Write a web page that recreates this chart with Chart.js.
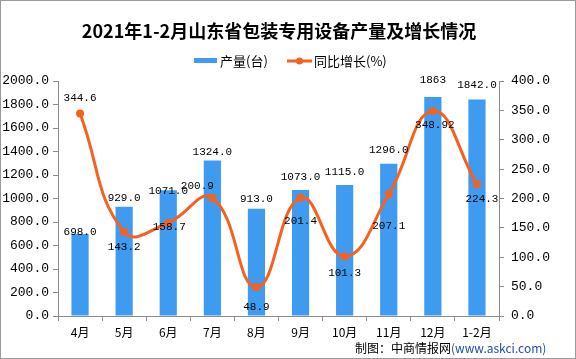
<!DOCTYPE html>
<html><head><meta charset="utf-8">
<script src="https://cdn.jsdelivr.net/npm/chart.js@4.4.0/dist/chart.umd.min.js"></script>
<style>html,body{margin:0;padding:0;background:#fff}canvas{display:block}</style>
</head><body>
<canvas id="c" width="576" height="359"></canvas>
<script>
const categories = ['4月','5月','6月','7月','8月','9月','10月','11月','12月','1-2月'];
const output = [698, 929, 1071, 1324, 913, 1073, 1115, 1296, 1863, 1842];
const outputLabels = ['698.0','929.0','1071.0','1324.0','913.0','1073.0','1115.0','1296.0','1863','1842.0'];
const growth = [344.6, 143.2, 158.7, 200.9, 48.9, 201.4, 101.3, 207.1, 348.92, 224.3];
const growthLabels = ['344.6','143.2','158.7','200.9','48.9','201.4','101.3','207.1','348.92','224.3'];
const leftTickMax = 2000, leftTickStep = 200;
const rightTickMax = 400, rightTickStep = 50;

// label placement offsets (dx, dy) relative to the mark
const barLabelOffsets = [[0,-2],[0,-9],[0,1],[0,-8],[0,-10],[0,-13],[0,-13],[0,-14],[0,-17],[0,-14]];
const lineLabelOffsets = [[0,-15],[0,15],[1,4],[-15,-12],[0,20],[0,23],[0,17],[0,32],[2,14],[5,15]];

const BLUE = '#3f9bf0', ORANGE = '#f5621f', AXIS = '#8c8c8c';
const MONO = '"Liberation Mono", "DejaVu Sans Mono", monospace';
const CJK = '"Noto Sans CJK SC", sans-serif';

const decor = {
  id: 'decor',
  afterDraw(chart) {
    const ctx = chart.ctx;
    ctx.save();
    // title
    ctx.fillStyle = '#000';
    ctx.font = 'bold 18px "Noto Sans CJK SC", serif';
    ctx.textAlign = 'center';
    ctx.textBaseline = 'middle';
    ctx.fillText('2021年1-2月山东省包装专用设备产量及增长情况', 279, 31);
    // legend
    ctx.fillStyle = BLUE;
    ctx.fillRect(194, 58, 23, 5);
    ctx.fillStyle = '#000';
    ctx.font = '13px ' + CJK;
    ctx.textAlign = 'left';
    ctx.fillText('产量(台)', 220, 61);
    ctx.strokeStyle = ORANGE; ctx.lineWidth = 3;
    ctx.beginPath(); ctx.moveTo(287, 61); ctx.lineTo(312, 61); ctx.stroke();
    ctx.fillStyle = ORANGE;
    ctx.beginPath(); ctx.arc(299.5, 61, 3.5, 0, Math.PI*2); ctx.fill();
    ctx.fillStyle = '#000';
    ctx.fillText('同比增长(%)', 314, 61);
    // data labels
    ctx.font = '11px ' + MONO;
    ctx.textAlign = 'center';
    ctx.textBaseline = 'middle';
    const barMeta = chart.getDatasetMeta(0);
    barMeta.data.forEach((el, i) => {
      const o = barLabelOffsets[i];
      ctx.fillText(outputLabels[i], el.x + o[0], el.y + o[1]);
    });
    const lineMeta = chart.getDatasetMeta(1);
    lineMeta.data.forEach((el, i) => {
      const o = lineLabelOffsets[i];
      ctx.fillText(growthLabels[i], el.x + o[0], el.y + o[1]);
    });
    // source
    ctx.font = '12px ' + CJK;
    ctx.textAlign = 'left';
    const s1 = '制图：中商情报网';
    ctx.fillStyle = '#000';
    ctx.fillText(s1, 355, 348);
    const w = ctx.measureText(s1).width;
    ctx.fillStyle = '#1f4fa8';
    ctx.fillText('(www.askci.com)', 355 + w, 348);
    // border
    ctx.strokeStyle = '#9a9a9a'; ctx.lineWidth = 1;
    ctx.strokeRect(0.5, 0.5, 575, 358);
    ctx.restore();
  }
};

new Chart(document.getElementById('c'), {
  data: {
    labels: categories,
    datasets: [
      { type: 'bar', label: '产量(台)', data: output, backgroundColor: BLUE, yAxisID: 'y', order: 2,
        barPercentage: 0.39, categoryPercentage: 1.0 },
      { type: 'line', label: '同比增长(%)', data: growth, borderColor: ORANGE, backgroundColor: ORANGE,
        borderWidth: 3, pointRadius: 4, pointBackgroundColor: ORANGE, pointBorderWidth: 0,
        tension: 0.45, yAxisID: 'y1', order: 1 }
    ]
  },
  options: {
    responsive: false, animation: false, devicePixelRatio: 1,
    layout: { padding: { top: 81, left: 0, right: 0, bottom: 0 } },
    plugins: { legend: { display: false }, title: { display: false }, tooltip: { enabled: false } },
    scales: {
      x: {
        offset: true,
        grid: { display: true, drawOnChartArea: false, drawTicks: true, tickLength: 5, color: AXIS, offset: true },
        border: { color: AXIS },
        ticks: { color: '#000', font: { family: CJK, size: 12 }, padding: 4, maxRotation: 0, autoSkip: false },
        afterFit(s) { s.height = 43; }
      },
      y: {
        position: 'left', min: 0, max: leftTickMax,
        grid: { drawOnChartArea: false, drawTicks: true, tickLength: 5, color: AXIS },
        border: { color: AXIS },
        ticks: { stepSize: leftTickStep, color: '#000', font: { family: MONO, size: 13 }, padding: 4,
          callback: v => v.toFixed(1) },
        afterFit(s) { s.width = 58; }
      },
      y1: {
        position: 'right', min: 0, max: rightTickMax,
        grid: { drawOnChartArea: false, drawTicks: true, tickLength: 5, color: AXIS },
        border: { color: AXIS },
        ticks: { stepSize: rightTickStep, color: '#000', font: { family: MONO, size: 13 }, padding: 7,
          callback: v => v.toFixed(1) },
        afterFit(s) { s.width = 77; }
      }
    }
  },
  plugins: [decor]
});
</script>
</body></html>
